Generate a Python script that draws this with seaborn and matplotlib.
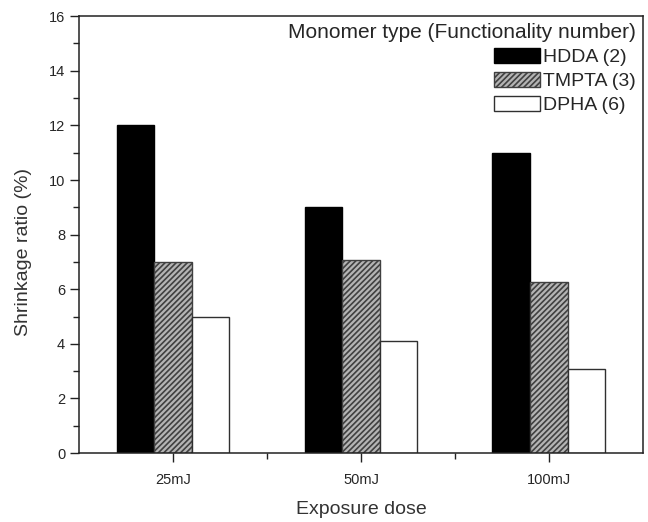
import pandas as pd
import numpy as np
import matplotlib
matplotlib.use("Agg")
import matplotlib.pyplot as plt
import seaborn as sns
from matplotlib.ticker import MultipleLocator, FixedLocator

# -----------------------------
# data
# -----------------------------
doses = ["25mJ", "50mJ", "100mJ"]
monomers = ["HDDA (2)", "TMPTA (3)", "DPHA (6)"]
hdda = [12.0, 9.0, 11.0]
tmpta = [7.0, 7.07, 6.28]
dpha = [4.97, 4.11, 3.08]

df = pd.DataFrame({
    "dose": doses * 3,
    "monomer": [monomers[0]] * 3 + [monomers[1]] * 3 + [monomers[2]] * 3,
    "shrink": hdda + tmpta + dpha,
})

sns.set_style("ticks")
plt.rcParams["font.family"] = ["Liberation Sans", "DejaVu Sans"]
plt.rcParams["hatch.linewidth"] = 1.2

fig = plt.figure(figsize=(6.48, 5.22), dpi=100)
ax = fig.add_axes([0.122, 0.132, 0.870, 0.837])

palette = {monomers[0]: "black", monomers[1]: "#b4b4b4", monomers[2]: "white"}
sns.barplot(data=df, x="dose", y="shrink", hue="monomer", order=doses,
            hue_order=monomers, palette=palette, width=0.6, saturation=1,
            legend=False, ax=ax)

edges = ["black", "#404040", "#303030"]
hatches = [None, "//////", None]
for cont, ec, ht in zip(ax.containers, edges, hatches):
    for bar in cont:
        bar.set_edgecolor(ec)
        bar.set_linewidth(1.0)
        if ht:
            bar.set_hatch(ht)

ax.set_xlim(-0.5, 2.5)
ax.set_ylim(0, 16)
ax.yaxis.set_major_locator(MultipleLocator(2))
ax.yaxis.set_minor_locator(MultipleLocator(1))
ax.xaxis.set_minor_locator(FixedLocator([0.5, 1.5]))
ax.tick_params(which="major", direction="out", length=6.5, width=1, labelsize=10.5, color="#222222")
ax.tick_params(which="minor", direction="out", length=4, width=1, color="#222222")
ax.tick_params(axis="x", which="major", pad=8)
for sp in ax.spines.values():
    sp.set_visible(True)
    sp.set_linewidth(1.1)
    sp.set_color("#222222")

ax.set_xlabel("Exposure dose", fontsize=14, color="#333333", labelpad=10)
ax.set_ylabel("Shrinkage ratio (%)", fontsize=14, color="#333333")
ax.yaxis.set_label_coords(-0.083, 0.46)

leg = ax.legend(ax.containers, monomers, title="Monomer type (Functionality number)",
                loc="upper right", bbox_to_anchor=(1.0, 1.0), frameon=False,
                alignment="right", fontsize=14, title_fontsize=15,
                handlelength=2.4, handleheight=0.8, labelspacing=0.3,
                handletextpad=0.15, borderaxespad=0.2, borderpad=0.15)

fig.savefig("out.png", dpi=100)
